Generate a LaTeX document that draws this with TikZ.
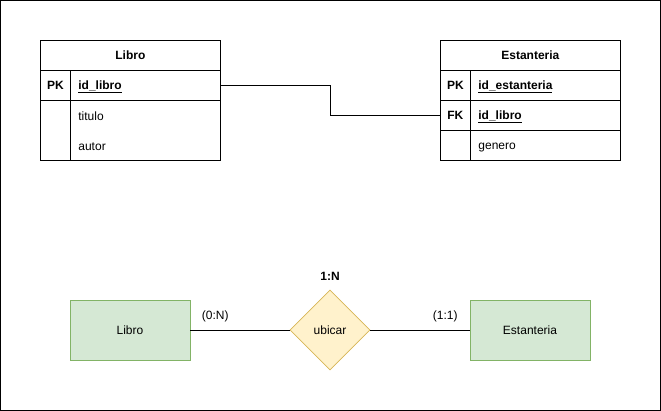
\documentclass[tikz,border=0pt]{standalone}
\usepackage{fontspec}
\setmainfont{Liberation Sans}
\usetikzlibrary{shapes.geometric}
\definecolor{entfill}{HTML}{D5E8D4}
\definecolor{entline}{HTML}{82B366}
\definecolor{relfill}{HTML}{FFF2CC}
\definecolor{relline}{HTML}{D6B656}

\begin{document}
\begin{tikzpicture}[x=1pt, y=-1pt, line width=0.8pt,
		font=\fontsize{12}{14}\selectfont,
		cell/.style={draw, anchor=north west, minimum height=30pt, inner sep=0pt, text height=8.6pt, text depth=0pt},
		keycell/.style={cell, minimum width=30pt, font=\fontsize{12}{14}\selectfont\bfseries},
		field/.style={cell, minimum width=150pt, text width=134pt, inner xsep=8pt, align=left},
		entity/.style={draw=entline, fill=entfill, minimum width=120pt, minimum height=60pt},
		relation/.style={diamond, aspect=1, draw=relline, fill=relfill, minimum width=80pt, minimum height=80pt, inner sep=0pt}]
	% Frame
	\useasboundingbox (0,0) rectangle (661,411);
	\draw (0.5,0.5) rectangle (660.5,410.5);

	% Table Libro
	\node[cell, minimum width=180pt, font=\fontsize{12}{14}\selectfont\bfseries] (librotab) at (40,40) {Libro};
	\node[keycell] (libropk) at (40,70) {PK};
	\node[field] (libroid) at (70,70) {\textbf{\underline{id\_libro}}};
	\node[keycell, minimum height=60pt] (librokey) at (40,100) {};
	\node[field, minimum height=60pt] (librobody) at (70,100) {};
	\node[anchor=base west, inner sep=0pt] (titulo) at (78,120.5) {titulo};
	\node[anchor=base west, inner sep=0pt] (autor) at (78,150.5) {autor};

	% Table Estanteria
	\node[cell, minimum width=180pt, font=\fontsize{12}{14}\selectfont\bfseries] (esttab) at (440,40) {Estanteria};
	\node[keycell] (estpk) at (440,70) {PK};
	\node[field] (estid) at (470,70) {\textbf{\underline{id\_estanteria}}};
	\node[keycell] (estfk) at (440,100) {FK};
	\node[field] (estlibro) at (470,100) {\textbf{\underline{id\_libro}}};
	\node[keycell] (estkey) at (440,130) {};
	\node[field] (genero) at (470,130) {genero};

	% Foreign key link
	\draw (libroid.east) -- ++(110,0) |- (estfk.west);

	% ER diagram
	\node[entity] (libro) at (130,330) {Libro};
	\node[relation] (ubicar) at (330,330) {ubicar};
	\node[entity] (estanteria) at (530,330) {Estanteria};
	\node[font=\fontsize{12}{14}\selectfont\bfseries] (card) at (330,276) {1:N};

	\draw (libro.east) -- (ubicar.west) node[pos=0.25, yshift=13.5pt] (minlibro) {(0:N)};
	\draw (ubicar.east) -- (estanteria.west) node[pos=0.755, yshift=13.5pt] (minest) {(1:1)};
\end{tikzpicture}
\end{document}
